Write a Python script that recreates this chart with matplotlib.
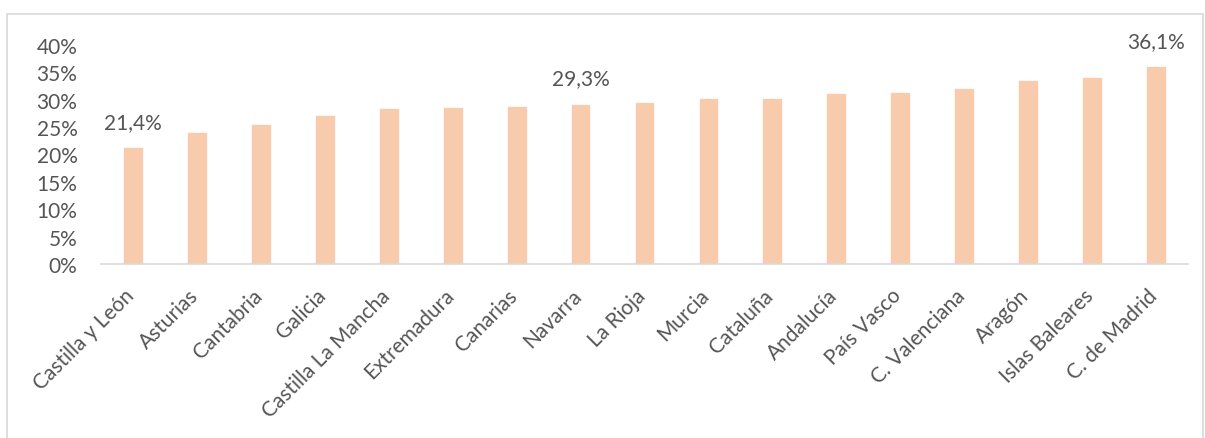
import matplotlib.pyplot as plt
from matplotlib.patches import Rectangle
from matplotlib.ticker import FuncFormatter
from matplotlib.transforms import ScaledTranslation

regions = ["Castilla y León", "Asturias", "Cantabria", "Galicia",
           "Castilla La Mancha", "Extremadura", "Canarias", "Navarra",
           "La Rioja", "Murcia", "Cataluña", "Andalucía", "País Vasco",
           "C. Valenciana", "Aragón", "Islas Baleares", "C. de Madrid"]
values = [21.4, 24.1, 25.5, 27.2, 28.5, 28.7, 28.9, 29.3, 29.5, 30.4,
          30.4, 31.3, 31.5, 32.2, 33.6, 34.2, 36.1]
labelled = {0: "21,4%", 7: "29,3%", 16: "36,1%"}

TEXT = "#555555"
BAR = "#F8CBAD"
GRID = "#D9D9D9"
FS = 15


def main():
    plt.rcParams["font.family"] = ["Lato", "DejaVu Sans"]
    fig = plt.figure(figsize=(12.05, 4.39), dpi=100)
    ax = fig.add_axes([101 / 1205, 1 - 265 / 439, 1087 / 1205, 219 / 439])

    x = list(range(len(regions)))
    ax.bar(x, values, width=0.31, color=BAR, edgecolor="white", linewidth=0.5)
    ax.set_xlim(-0.5, len(regions) - 0.5)
    ax.set_ylim(0, 40)
    ax.set_yticks(range(0, 41, 5))
    ax.yaxis.set_major_formatter(FuncFormatter(lambda v, p: f"{v:.0f}%"))
    ax.set_xticks(x)
    ax.set_xticklabels([])
    ax.tick_params(axis="y", length=0, pad=17, labelsize=FS, labelcolor=TEXT)
    ax.tick_params(axis="x", length=0)

    # rotated category labels, nudged down like the original
    shift = ScaledTranslation(-2 / 100, -28 / 100, fig.dpi_scale_trans)
    trans = ax.get_xaxis_transform() + shift
    for i, name in zip(x, regions):
        ax.text(i, 0, name, transform=trans, rotation=45, rotation_mode="anchor",
                ha="right", va="center", fontsize=FS, color=TEXT)

    for side in ["top", "right", "left"]:
        ax.spines[side].set_visible(False)
    ax.spines["bottom"].set_color(GRID)
    ax.spines["bottom"].set_linewidth(1.2)

    for i, txt in labelled.items():
        ax.annotate(txt, (i, values[i]), xytext=(0, 18), textcoords="offset points",
                    ha="center", va="center", fontsize=FS, color=TEXT)

    fig.patches.append(Rectangle((7 / 1205, -0.1), 1196 / 1205, 1.1 - 15 / 439,
                                 transform=fig.transFigure, fill=False,
                                 edgecolor=GRID, linewidth=1.2))
    fig.savefig("out.png", dpi=100)


if __name__ == "__main__":
    main()
